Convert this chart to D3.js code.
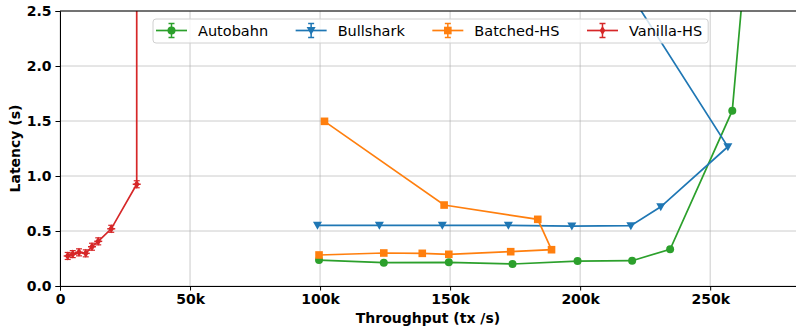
<!DOCTYPE html>
<html>
<head>
<meta charset="UTF-8">
<script src="https://d3js.org/d3.v7.min.js"></script>
<style>
  body { margin: 0; background: #fff; }
  svg text { font-family: 'DejaVu Sans', sans-serif; }
  .tick text { font-size: 14px; font-weight: bold; fill: #000; }
  .axis-title { font-size: 14px; font-weight: bold; }
  .legend text { font-size: 14.5px; }
</style>
</head>
<body>
<svg id="chart" width="796" height="331"></svg>
<script>
// throughput (tx/s) and latency (s) per system
const autobahnX = [99600, 124500, 149500, 174000, 199000, 220000, 234600, 258500, 263000];
const autobahnY = [0.236, 0.212, 0.215, 0.200, 0.227, 0.230, 0.334, 1.594, 2.8];

const bullsharkX = [99000, 122800, 147000, 172400, 196800, 219500, 231000, 256800, 210000];
const bullsharkY = [0.552, 0.552, 0.552, 0.552, 0.545, 0.548, 0.720, 1.266, 3.0];

const batchedX = [99600, 124500, 139300, 149500, 173300, 189000, 183700, 147700, 101700];
const batchedY = [0.282, 0.300, 0.297, 0.288, 0.312, 0.330, 0.606, 0.736, 1.497];

const vanillaX = [2960, 4900, 7300, 9900, 12300, 14700, 19700, 29500, 29500];
const vanillaY = [0.273, 0.290, 0.306, 0.297, 0.357, 0.406, 0.520, 0.925, 10];

const xTicks = [0, 50000, 100000, 150000, 200000, 250000];
const xTickLabels = ["0", "50k", "100k", "150k", "200k", "250k"];
const yTicks = [0.0, 0.5, 1.0, 1.5, 2.0, 2.5];

const series = [
  { name: "Autobahn", xs: autobahnX, ys: autobahnY, color: "#2ca02c", marker: "circle" },
  { name: "Bullshark", xs: bullsharkX, ys: bullsharkY, color: "#1f77b4", marker: "tri" },
  { name: "Batched-HS", xs: batchedX, ys: batchedY, color: "#ff7f0e", marker: "square" },
  { name: "Vanilla-HS", xs: vanillaX, ys: vanillaY, color: "#d62728", marker: "thin" }
];

const margin = { top: 11, right: 0, bottom: 45, left: 60 };
const W = 796, H = 331;
const width = W - margin.left - margin.right;
const height = H - margin.top - margin.bottom;

const svg = d3.select("#chart");
const g = svg.append("g").attr("transform", `translate(${margin.left},${margin.top})`);

const x = d3.scaleLinear().domain([0, 283000]).range([0, width]);
const y = d3.scaleLinear().domain([0, 2.5]).range([height, 0]);

// grid
g.append("g").selectAll("line").data(xTicks).enter().append("line")
  .attr("x1", d => x(d)).attr("x2", d => x(d)).attr("y1", 0).attr("y2", height)
  .attr("stroke", "#b0b0b0").attr("stroke-width", 0.8).attr("opacity", 0.8);
g.append("g").selectAll("line").data(yTicks).enter().append("line")
  .attr("x1", 0).attr("x2", width).attr("y1", d => y(d)).attr("y2", d => y(d))
  .attr("stroke", "#b0b0b0").attr("stroke-width", 0.8).attr("opacity", 0.8);

g.append("defs").append("clipPath").attr("id", "clip")
  .append("rect").attr("width", width).attr("height", height);

const plot = g.append("g").attr("clip-path", "url(#clip)");
const line = d3.line().x(d => x(d[0])).y(d => y(d[1]));

function drawMarker(sel, type, color) {
  if (type === "circle") {
    sel.append("circle").attr("r", 4).attr("fill", color);
  } else if (type === "square") {
    sel.append("rect").attr("x", -3.8).attr("y", -3.8).attr("width", 7.6).attr("height", 7.6).attr("fill", color);
  } else if (type === "tri") {
    sel.append("path").attr("d", "M-4.5,-3.5 L4.5,-3.5 L0,4.5 Z").attr("fill", color);
  } else {
    sel.append("path").attr("d", "M0,-4.5 L2.8,0 L0,4.5 L-2.8,0 Z").attr("fill", color);
  }
}

series.forEach(s => {
  const pts = s.xs.map((v, i) => [v, s.ys[i]]);
  plot.append("path").datum(pts).attr("d", line)
    .attr("fill", "none").attr("stroke", s.color).attr("stroke-width", 1.7);
  pts.forEach(p => {
    const m = plot.append("g").attr("transform", `translate(${x(p[0])},${y(p[1])})`);
    drawMarker(m, s.marker, s.color);
    if (s.marker === "thin") {
      // small error bars with caps
      m.append("line").attr("x1", -4).attr("x2", 4).attr("y1", 0).attr("y2", 0)
        .attr("stroke", s.color).attr("stroke-width", 1.5);
      [-3.5, 3.5].forEach(dy => m.append("line").attr("x1", -3).attr("x2", 3)
        .attr("y1", dy).attr("y2", dy).attr("stroke", s.color).attr("stroke-width", 1.2));
    }
  });
});

// axes
g.append("g").attr("transform", `translate(0,${height})`)
  .call(d3.axisBottom(x).tickValues(xTicks).tickFormat((d, i) => xTickLabels[i]).tickSize(4.5).tickPadding(4))
  .call(a => a.select(".domain").attr("stroke", "#000").attr("stroke-width", 1));
g.append("g")
  .call(d3.axisLeft(y).tickValues(yTicks).tickFormat(d3.format(".1f")).tickSize(4.5).tickPadding(4))
  .call(a => a.select(".domain").attr("stroke", "#000").attr("stroke-width", 1));
g.append("line").attr("x1", 0).attr("x2", width).attr("y1", 0).attr("y2", 0)
  .attr("stroke", "#000").attr("stroke-width", 1);

svg.append("text").attr("class", "axis-title")
  .attr("x", margin.left + width / 2).attr("y", 323).attr("text-anchor", "middle")
  .text("Throughput (tx /s)");
svg.append("text").attr("class", "axis-title")
  .attr("transform", `translate(20,${margin.top + height / 2}) rotate(-90)`)
  .attr("text-anchor", "middle").text("Latency (s)");

// legend
const legend = svg.append("g").attr("class", "legend");
const box = legend.append("rect").attr("x", 153).attr("y", 19).attr("height", 24)
  .attr("rx", 3).attr("fill", "#fff").attr("fill-opacity", 0.8)
  .attr("stroke", "#d0d0d0").attr("stroke-width", 1);
let lx = 156;
series.forEach(s => {
  const ly = 30.5;
  legend.append("line").attr("x1", lx).attr("x2", lx + 31).attr("y1", ly).attr("y2", ly)
    .attr("stroke", s.color).attr("stroke-width", 1.7);
  legend.append("line").attr("x1", lx + 15.5).attr("x2", lx + 15.5).attr("y1", ly - 7).attr("y2", ly + 7)
    .attr("stroke", s.color).attr("stroke-width", 1.5);
  const m = legend.append("g").attr("transform", `translate(${lx + 15.5},${ly})`);
  drawMarker(m, s.marker, s.color);
  [-7, 7].forEach(dy => legend.append("line").attr("x1", lx + 12.5).attr("x2", lx + 18.5)
    .attr("y1", ly + dy).attr("y2", ly + dy).attr("stroke", s.color).attr("stroke-width", 1.5));
  const t = legend.append("text").attr("x", lx + 42).attr("y", ly + 5).text(s.name);
  const tw = t.node().getComputedTextLength();
  box.attr("width", lx + 42 + tw + 6 - 153);
  lx += 42 + tw + 27.5;
});
</script>
</body>
</html>
